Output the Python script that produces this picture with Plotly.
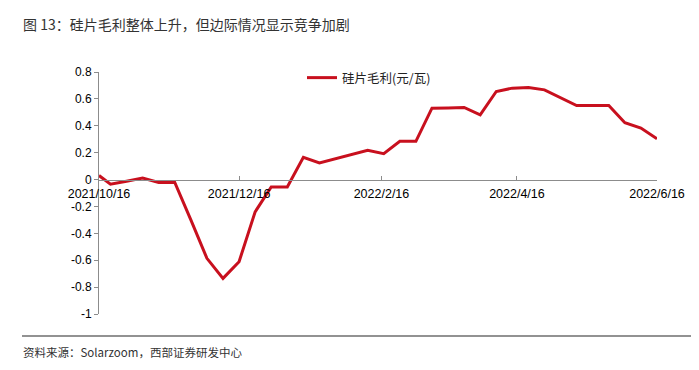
import plotly.graph_objects as go

dates = [
    "2021-10-16", "2021-10-21", "2021-10-28", "2021-11-04", "2021-11-11", "2021-11-18",
    "2021-11-25", "2021-12-02", "2021-12-09", "2021-12-16", "2021-12-23", "2021-12-30",
    "2022-01-06", "2022-01-13", "2022-01-20", "2022-01-27", "2022-02-03", "2022-02-10",
    "2022-02-17", "2022-02-24", "2022-03-03", "2022-03-10", "2022-03-17", "2022-03-24",
    "2022-03-31", "2022-04-07", "2022-04-14", "2022-04-21", "2022-04-28", "2022-05-05",
    "2022-05-12", "2022-05-19", "2022-05-26", "2022-06-02", "2022-06-09", "2022-06-16",
]
margin_values = [
    0.03, -0.035, -0.012, 0.012, -0.022, -0.022,
    -0.30, -0.586, -0.735, -0.611, -0.24, -0.055,
    -0.055, 0.165, 0.123, 0.155, 0.186, 0.217,
    0.193, 0.284, 0.284, 0.531, 0.533, 0.536,
    0.482, 0.655, 0.68, 0.685, 0.667, 0.61,
    0.551, 0.551, 0.551, 0.423, 0.383, 0.304,
]
series_name = "硅片毛利(元/瓦)"
x_tick_vals = ["2021-10-16", "2021-12-16", "2022-02-16", "2022-04-16", "2022-06-16"]
x_tick_text = ["2021/10/16", "2021/12/16", "2022/2/16", "2022/4/16", "2022/6/16"]
y_tick_vals = [0.8, 0.6, 0.4, 0.2, 0, -0.2, -0.4, -0.6, -0.8, -1]
y_tick_text = ["0.8", "0.6", "0.4", "0.2", "0", "-0.2", "-0.4", "-0.6", "-0.8", "-1"]
title_text = "图 13：硅片毛利整体上升，但边际情况显示竞争加剧"
source_text = "资料来源：Solarzoom，西部证券研发中心"

LATIN = "Liberation Sans, Arial, sans-serif"
CJK = "Noto Sans CJK SC, sans-serif"

# page offset (body margin) compensation
OFF = 8
W, H = 699 - OFF, 370 - OFF
L, R, T, B = 99 - OFF, 42, 72 - OFF, 56
pw = W - L - R
ph = H - T - B

def px_x(x):
    return (x - OFF - L) / pw

def px_y(y):
    return (H - B - (y - OFF)) / ph

fig = go.Figure()
fig.add_trace(go.Scatter(
    x=dates, y=margin_values, mode="lines", name=series_name,
    line=dict(color="#C8101E", width=3),
    showlegend=True,
))

fig.update_layout(
    width=W, height=H,
    margin=dict(l=L, r=R, t=T, b=B, pad=0),
    paper_bgcolor="white", plot_bgcolor="white",
    font=dict(family=LATIN, size=12, color="#000000"),
    showlegend=True,
    legend=dict(
        x=px_x(302), y=px_y(78), xanchor="left", yanchor="middle",
        bgcolor="rgba(0,0,0,0)", borderwidth=0,
        font=dict(family=CJK, size=12.5, color="#222222"),
        itemwidth=30,
    ),
    xaxis=dict(
        type="date",
        range=["2021-10-16", "2022-06-16"],
        tickvals=x_tick_vals, ticktext=x_tick_text,
        showgrid=False, zeroline=False,
        showline=True, linecolor="#8c8c8c", linewidth=1,
        ticks="inside", ticklen=4, tickcolor="#8c8c8c",
        anchor="free", position=5 / 9,
        ticklabelstandoff=2,
        tickfont=dict(family=LATIN, size=12.5, color="#000000"),
    ),
    yaxis=dict(
        range=[-1, 0.8],
        tickvals=y_tick_vals, ticktext=y_tick_text,
        showgrid=False, zeroline=False,
        showline=True, linecolor="#8c8c8c", linewidth=1,
        ticks="outside", ticklen=4, tickcolor="#8c8c8c",
        tickfont=dict(family=LATIN, size=12, color="#000000"),
    ),
    annotations=[
        dict(text=title_text, xref="paper", yref="paper",
             x=px_x(21), y=px_y(24), xanchor="left", yanchor="middle",
             showarrow=False, font=dict(family=CJK, size=14, color="#333333")),
        dict(text=source_text, xref="paper", yref="paper",
             x=px_x(21), y=px_y(352), xanchor="left", yanchor="middle",
             showarrow=False, font=dict(family=CJK, size=11.5, color="#333333")),
    ],
    shapes=[
        dict(type="line", xref="paper", yref="paper",
             x0=px_x(22), x1=px_x(699), y0=px_y(336), y1=px_y(336),
             line=dict(color="#6e6e6e", width=1.5)),
    ],
)

fig.write_html("out.html")
